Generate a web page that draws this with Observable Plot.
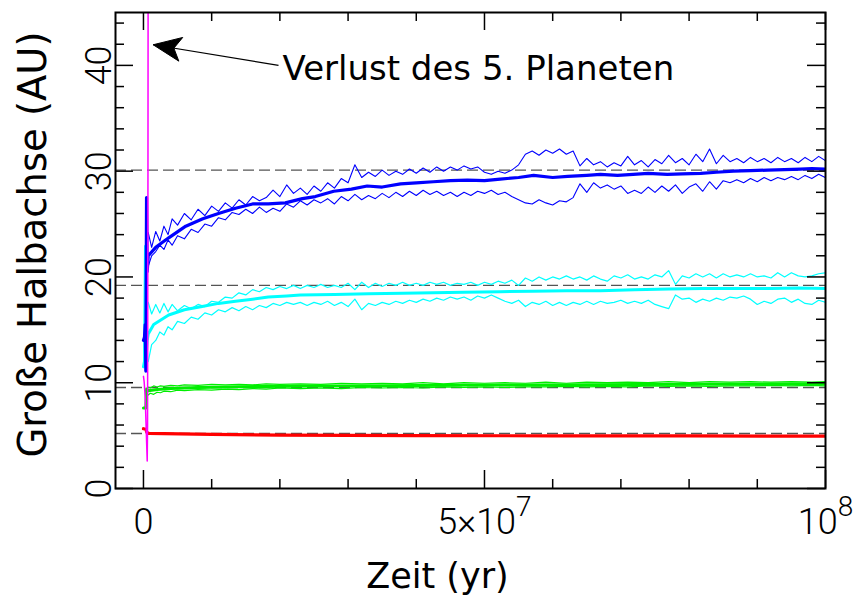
<!DOCTYPE html>
<html>
<head>
<meta charset="utf-8">
<script src="https://cdn.jsdelivr.net/npm/d3@7"></script>
<script src="https://cdn.jsdelivr.net/npm/@observablehq/plot@0.6"></script>
<style>
html, body { margin: 0; padding: 0; background: #fff; }
#chart { width: 858px; height: 597px; }
</style>
</head>
<body>
<div id="chart"></div>
<script>
// ---------------- data (time in Myr, semi-major axis in AU) ----------------
const T = [0.7,1.2,1.8,2.4,3,3.6,4.2,5,6,7,8,9,10,11,12,13,14,15,16,17,18,19,20,21,22,23,24,25,26,27,28,29,30,31,32,33,34,35,36,37,38,39,40,41,42,43,44,45,46,47,48,49,50,51,52,53,54,55,56,57,58,59,60,61,62,63,64,65,66,67,68,69,70,71,72,73,74,75,76,77,78,79,80,81,82,83,84,85,86,87,88,89,90,91,92,93,94,95,96,97,98,99,100];

const nepUpper = [24.2,22.8,24.3,23.4,24.8,24.0,25.5,24.9,26.0,25.4,
  26.4,25.8,26.7,26.2,27.0,26.5,27.3,26.8,27.6,27.2,
  27.5,28.2,27.6,28.7,27.9,28.4,27.8,28.6,28.1,28.9,
  28.4,29.3,28.9,30.6,29.4,29.9,29.5,30.1,29.6,30.0,
  29.7,30.2,29.8,30.3,29.9,30.4,30.0,30.4,30.1,30.5,
  30.2,30.4,29.9,29.7,30.0,29.8,30.1,30.6,31.6,31.9,
  31.5,32.0,31.7,32.1,31.6,31.9,30.5,31.2,30.6,30.9,
  30.4,30.8,30.5,31.4,30.6,31.0,30.4,31.1,30.7,31.5,
  30.8,31.2,30.6,31.6,30.9,32.1,30.7,31.5,30.9,31.2,
  30.8,31.3,30.9,31.2,30.8,31.3,30.9,31.2,30.8,31.3,
  30.9,31.4,31.0];
const nepLower = [21.0,22.0,22.4,23.0,22.6,23.5,23.0,23.9,23.6,24.5,
  24.2,25.0,24.8,25.6,25.4,26.1,25.9,26.4,26.0,26.6,
  26.1,26.5,26.2,26.9,26.6,27.2,26.8,27.3,27.0,27.4,
  26.9,27.6,27.2,27.8,27.3,27.7,27.4,27.9,27.5,28.0,
  27.6,28.1,27.7,28.2,27.8,28.1,27.7,28.0,27.6,28.0,
  27.7,28.1,27.9,28.2,27.8,28.0,27.6,27.3,27.0,26.9,
  27.3,27.0,26.8,27.2,27.1,27.5,28.8,28.0,28.9,28.4,
  28.7,28.3,28.6,27.9,28.2,27.9,28.5,28.0,28.6,28.1,
  28.7,27.9,28.5,28.8,28.1,29.0,28.3,29.1,28.9,29.2,
  28.9,29.3,29.0,29.4,29.1,29.4,29.2,29.5,29.2,29.6,
  29.3,29.7,29.4];
const nepMeanT = [0,0.15,0.25,0.35,0.45,0.55,0.7,1.8,3.7,6.2,8.7,11,13.5,16,18.3,20.8,23.3,25.2,27.9,30.5,32.8,35,37.7,40,42.5,45,47.5,50,52.3,55,57.2,60,62.2,65,67,69.5,71.8,74,76.8,79,81.7,84,86.5,89,91.5,94,96.3,98,100];
const nepMean = [14.0,14.3,15.5,11.1,27.5,20.5,22.0,22.8,23.7,24.8,25.5,26.0,26.5,26.9,26.9,27.0,27.4,27.6,28.1,28.3,28.6,28.5,28.8,28.9,29.0,29.1,29.15,29.1,29.25,29.4,29.6,29.4,29.5,29.6,29.7,29.6,29.7,29.8,29.7,29.75,29.8,29.9,30.0,30.05,30.1,30.15,30.2,30.25,30.2];

const uraUpper = [17.6,16.5,17.4,16.6,17.5,16.7,17.4,16.8,17.3,17.0,
  17.4,17.2,17.7,17.6,18.1,18.0,18.5,18.3,18.8,18.6,
  19.0,18.8,19.1,18.9,19.2,18.9,19.2,19.0,19.3,19.0,
  19.2,19.0,19.4,18.8,19.5,19.0,19.4,19.1,19.4,19.2,
  19.5,19.2,19.4,19.2,19.5,19.3,19.5,19.2,19.4,19.3,
  19.5,19.2,19.5,19.3,19.6,19.4,19.7,19.2,19.9,19.6,
  20.0,19.7,20.0,19.8,20.1,19.8,20.0,19.7,20.1,19.8,
  19.6,20.1,19.9,20.2,19.8,20.0,19.8,20.2,20.0,20.6,
  19.3,20.1,19.9,20.3,20.0,20.3,19.9,20.3,20.0,20.2,
  20.0,20.3,20.0,20.1,19.9,20.4,20.0,20.4,20.1,20.0,
  20.1,20.3,20.4];
const uraLower = [12.0,13.6,14.0,14.8,14.5,15.3,15.0,15.8,15.6,16.2,
  16.0,16.6,16.4,16.9,16.7,17.1,16.8,17.2,16.9,17.3,
  17.1,17.5,17.3,17.6,17.4,17.6,17.3,17.6,17.4,17.7,
  17.3,17.6,17.2,17.9,16.9,17.5,17.3,17.6,17.4,17.7,
  17.5,17.8,17.6,17.9,17.7,18.0,17.8,18.1,17.9,18.1,
  17.8,18.2,18.0,18.3,18.0,17.7,17.5,17.8,17.2,17.6,
  17.4,17.7,17.3,17.6,17.3,17.6,17.4,17.7,17.4,17.7,
  17.5,17.6,17.8,17.5,17.7,17.5,17.8,17.4,17.2,17.0,
  18.3,17.9,18.0,17.6,17.9,17.7,18.0,17.8,18.1,18.0,
  18.2,17.9,17.4,17.7,17.5,17.9,18.0,17.6,17.9,17.5,
  17.4,17.8,17.6];
const uraMeanT = [0,0.15,0.3,0.4,0.55,0.7,1.5,3.7,6,8.6,11,13.5,16,18.3,21,23,28,33,38,42.5,47,52.3,57,62,67,72,77,82,87,92,96,100];
const uraMean = [11.5,12.0,22.9,12.5,14.0,14.6,15.5,16.4,16.9,17.2,17.5,17.7,17.9,18.1,18.2,18.3,18.35,18.4,18.45,18.5,18.55,18.6,18.65,18.7,18.7,18.8,18.85,18.9,18.9,18.9,18.95,18.9];

const satT = [0.6,1,1.5,2,2.5,3,4,5,6,8,10,12,14,16,18,20,23,26,29,32,35,38,41,44,47,50,53,56,59,62,65,68,71,74,77,80,83,86,89,92,95,98,100];
const satUpper = [9.6,9.5,9.7,9.6,9.7,9.65,9.75,9.7,9.8,9.75,9.85,9.8,9.85,9.8,9.9,9.85,9.9,9.85,9.95,9.9,9.95,9.9,10.0,9.9,10.0,9.95,10.0,9.95,10.05,9.95,10.05,10.0,10.05,10.0,10.1,10.0,10.1,10.05,10.1,10.05,10.1,10.05,10.1];
const satLower = [8.8,9.0,8.9,9.1,9.05,9.2,9.15,9.3,9.25,9.35,9.3,9.4,9.35,9.45,9.4,9.5,9.45,9.5,9.45,9.55,9.5,9.55,9.5,9.6,9.55,9.6,9.55,9.6,9.6,9.65,9.6,9.65,9.6,9.7,9.65,9.7,9.65,9.7,9.7,9.75,9.7,9.75,9.7];
const satMeanT = [0,0.35,0.45,0.7,2,4,8,12,18,25,35,50,65,80,100];
const satMean = [7.6,7.6,9.4,9.25,9.35,9.45,9.55,9.6,9.65,9.7,9.72,9.78,9.82,9.86,9.9];

const jupT = [0,0.35,0.5,0.8,3,10,20,40,60,80,100];
const jupMean = [5.65,5.6,5.3,5.2,5.18,5.12,5.05,5.0,4.98,4.97,4.95];

const lostT = [0,0.1,0.25,0.4,0.55,0.6,0.66,0.68];
const lostA = [10.6,10.1,8.7,5.6,2.6,6,30,45];

const referenceA = [5.2, 9.55, 19.2, 30.1];

const xDomain = [-4.1e6, 1e8];
const yDomain = [0, 45];
const xMajor = [0, 5e7, 1e8];
const xMinor = [1e7, 2e7, 3e7, 4e7, 6e7, 7e7, 8e7, 9e7];
const xTickLabels = ["0", "5×10^7", "10^8"];
const yMajor = [0, 10, 20, 30, 40];
const yMinor = [2,4,6,8,12,14,16,18,22,24,26,28,32,34,36,38,42,44];
const yTickLabels = ["0", "10", "20", "30", "40"];

const annotation = [{x1: 19.8e6, y1: 40.0, x2: 1.42e6, y2: 41.95, label: "Verlust des 5. Planeten"}];
const xLabel = "Zeit (yr)";
const yLabel = "Große Halbachse (AU)";

// ---------------- layout / style ----------------
const W = 858, H = 597;
const mL = 115, mR = 33, mT = 12, mB = 109;
const frameW = W - mL - mR, frameH = H - mT - mB;
const MAJOR = 18, MINOR = 9;
const MYR = 1e6;
const tickFont = "Roboto, 'Liberation Sans', sans-serif";
const labelFont = "'DejaVu Sans', sans-serif";

function series(ts, vs) {
  const n = Math.min(ts.length, vs.length);
  const out = [];
  for (let i = 0; i < n; i++) out.push({t: ts[i] * MYR, a: vs[i]});
  return out;
}
const line = (ts, vs, stroke, w) =>
  Plot.line(series(ts, vs), {x: "t", y: "a", stroke, strokeWidth: w, clip: true});

const BLUE = "#0000ff", CYAN = "#00ffff", GREEN = "#00ee00", RED = "#ff0000", MAGENTA = "#ff00ff";

const tickStyle = {stroke: "black", strokeWidth: 1.5};

const plot = Plot.plot({
  width: W, height: H,
  marginLeft: mL, marginRight: mR, marginTop: mT, marginBottom: mB,
  x: {domain: xDomain, axis: null},
  y: {domain: yDomain, axis: null},
  style: {background: "white", overflow: "visible"},
  marks: [
    Plot.ruleY(referenceA, {y: d => d, stroke: "#555", strokeWidth: 1.3, strokeDasharray: "11,5"}),
    // Saturn
    line(satT, satUpper, GREEN, 1.2),
    line(satT, satLower, GREEN, 1.2),
    line(satMeanT, satMean, GREEN, 3),
    // Jupiter
    line(jupT, jupMean, RED, 3.2),
    // Uranus
    line(T, uraUpper, CYAN, 1.2),
    line(T, uraLower, CYAN, 1.2),
    line(uraMeanT, uraMean, CYAN, 3),
    // Neptune
    line(T, nepUpper, BLUE, 1.1),
    line(T, nepLower, BLUE, 1.1),
    line(nepMeanT, nepMean, BLUE, 3.2),
    // lost fifth planet
    line(lostT, lostA, MAGENTA, 1.5),
    // frame + inward ticks
    Plot.frame({stroke: "black", strokeWidth: 2}),
    Plot.tickX(xMajor, {x: d => d, insetTop: frameH - MAJOR, ...tickStyle}),
    Plot.tickX(xMajor, {x: d => d, insetBottom: frameH - MAJOR, ...tickStyle}),
    Plot.tickX(xMinor, {x: d => d, insetTop: frameH - MINOR, ...tickStyle}),
    Plot.tickX(xMinor, {x: d => d, insetBottom: frameH - MINOR, ...tickStyle}),
    Plot.tickY(yMajor, {y: d => d, insetRight: frameW - MAJOR, ...tickStyle}),
    Plot.tickY(yMajor, {y: d => d, insetLeft: frameW - MAJOR, ...tickStyle}),
    Plot.tickY(yMinor, {y: d => d, insetRight: frameW - MINOR, ...tickStyle}),
    Plot.tickY(yMinor, {y: d => d, insetLeft: frameW - MINOR, ...tickStyle}),
    // tick labels
    Plot.text(xMajor, {x: d => d, frameAnchor: "bottom", text: (d, i) => xTickLabels[i],
      lineAnchor: "bottom", textAnchor: "middle", dy: 45, fontSize: 36, fontFamily: tickFont,
      fontWeight: 300, fill: "black"}),
    Plot.text(yMajor, {y: d => d, frameAnchor: "left", text: (d, i) => yTickLabels[i],
      rotate: -90, lineAnchor: "bottom", textAnchor: "middle", dx: -5, fontSize: 36,
      fontFamily: tickFont, fontWeight: 300, fill: "black"}),
    // axis titles
    Plot.text([xLabel], {frameAnchor: "bottom", text: d => d, lineAnchor: "bottom",
      textAnchor: "middle", dx: -33, dy: 99, fontSize: 35, fontFamily: labelFont, fill: "black"}),
    Plot.text([yLabel], {frameAnchor: "left", text: d => d, rotate: -90, lineAnchor: "middle",
      textAnchor: "middle", dx: -82, dy: -6, fontSize: 38.5, fontFamily: labelFont, fill: "black"}),
    // annotation
    Plot.link(annotation, {x1: "x1", y1: "y1", x2: "x2", y2: "y2", stroke: "black", strokeWidth: 1.2}),
    Plot.text(annotation, {x: "x1", y: "y1", text: "label", textAnchor: "start", lineAnchor: "bottom",
      dx: 4, dy: 15, fontSize: 34, fontFamily: labelFont, fill: "black"})
  ]
});

document.getElementById("chart").appendChild(plot);

// superscripts for x tick labels written as "a^b"
d3.select(plot).selectAll("text").each(function () {
  const s = this.textContent;
  const m = s.match(/^(.*)\^(\d+)$/);
  if (m) {
    const el = d3.select(this);
    el.text(m[1]);
    el.append("tspan").attr("dy", -18).attr("font-size", 28).text(m[2]);
  }
});

// filled arrow head at the end of the annotation link
const shaft = plot.querySelector('g[aria-label="link"] path');
if (shaft) {
  const nums = shaft.getAttribute("d").match(/-?\d*\.?\d+(?:e[-+]?\d+)?/gi).map(Number);
  const x1 = nums[0], y1 = nums[1], x2 = nums[nums.length - 2], y2 = nums[nums.length - 1];
  const ang = Math.atan2(y2 - y1, x2 - x1);
  const ux = Math.cos(ang), uy = Math.sin(ang), px = -uy, py = ux;
  const L = 28, Wd = 12, N = 21;
  const bx = x2 - ux * L, by = y2 - uy * L, nx = x2 - ux * N, ny = y2 - uy * N;
  const pts = [[x2, y2], [bx + px * Wd, by + py * Wd], [nx, ny], [bx - px * Wd, by - py * Wd]];
  d3.select(shaft.parentNode).append("path")
    .attr("d", "M" + pts.map(p => p.join(",")).join("L") + "Z")
    .attr("fill", "black").attr("stroke", "black").attr("stroke-width", 1);
}
</script>
</body>
</html>
